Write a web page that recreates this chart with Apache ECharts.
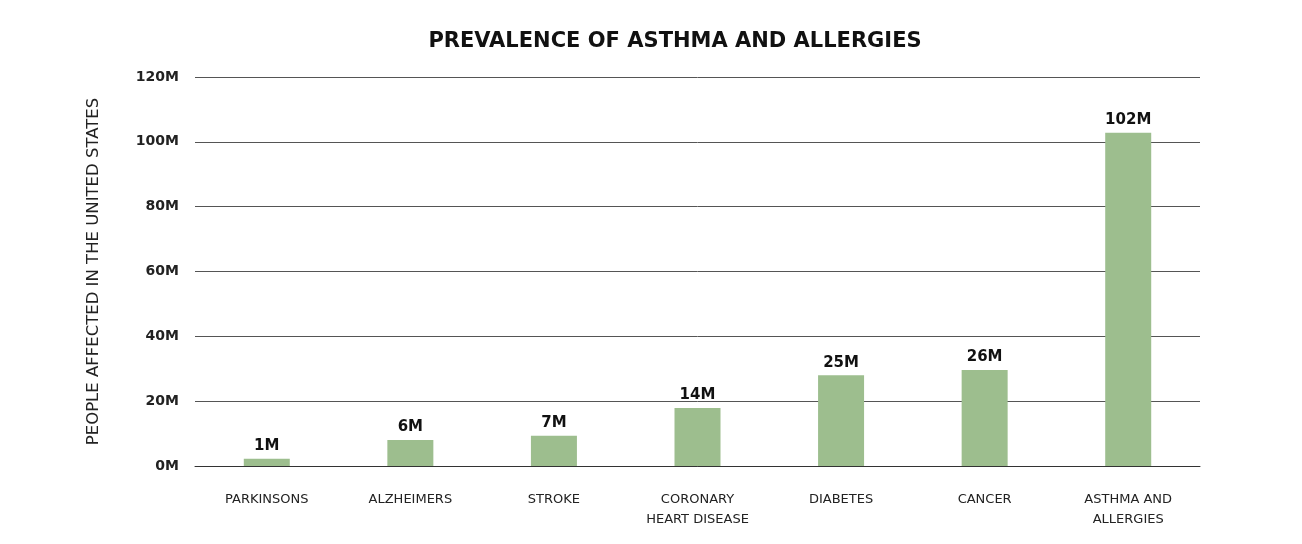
<!DOCTYPE html>
<html><head><meta charset="utf-8">
<script src="https://cdn.jsdelivr.net/npm/echarts@6/dist/echarts.min.js"></script>
<style>html,body{margin:0;background:#fff}#c{width:1302px;height:544px}</style>
</head><body><div id="c"></div>
<script>
const categories = ['PARKINSONS','ALZHEIMERS','STROKE','CORONARY\nHEART DISEASE','DIABETES','CANCER','ASTHMA AND\nALLERGIES'];
const barValues = [2.2, 8, 9.3, 17.9, 28, 29.6, 102.8];
const barLabels = ['1M','6M','7M','14M','25M','26M','102M'];
const yTicks = [0,20,40,60,80,100,120];
const F = 'DejaVu Sans';
const chart = echarts.init(document.getElementById('c'));
chart.setOption({
  title:{text:'PREVALENCE OF ASTHMA AND ALLERGIES',left:670,top:26,textAlign:'center',
    textStyle:{fontFamily:F,fontSize:21,fontWeight:'bold',color:'#111'}},
  grid:{left:195,right:102,top:77,bottom:78},
  xAxis:{type:'category',data:categories,axisTick:{show:false},
    axisLine:{lineStyle:{color:'#333'}},
    axisLabel:{fontFamily:F,fontSize:13,color:'#222',margin:24,lineHeight:20}},
  yAxis:{type:'value',min:0,max:120,interval:20,
    name:'PEOPLE AFFECTED IN THE UNITED STATES',nameLocation:'middle',nameGap:93,
    nameTextStyle:{fontFamily:F,fontSize:16.5,color:'#222'},
    axisLabel:{fontFamily:F,fontSize:14,fontWeight:'bold',color:'#222',margin:16,
      formatter:v=>yTicks.includes(v)?v+'M':''},
    splitLine:{lineStyle:{color:'#555',width:1}}},
  series:[{type:'bar',barWidth:46,itemStyle:{color:'#9dbe8e'},
    data:barValues,
    label:{show:true,position:'top',fontFamily:F,fontSize:15,fontWeight:'bold',color:'#111',
      formatter:p=>barLabels[p.dataIndex]}}]
});
</script></body></html>
